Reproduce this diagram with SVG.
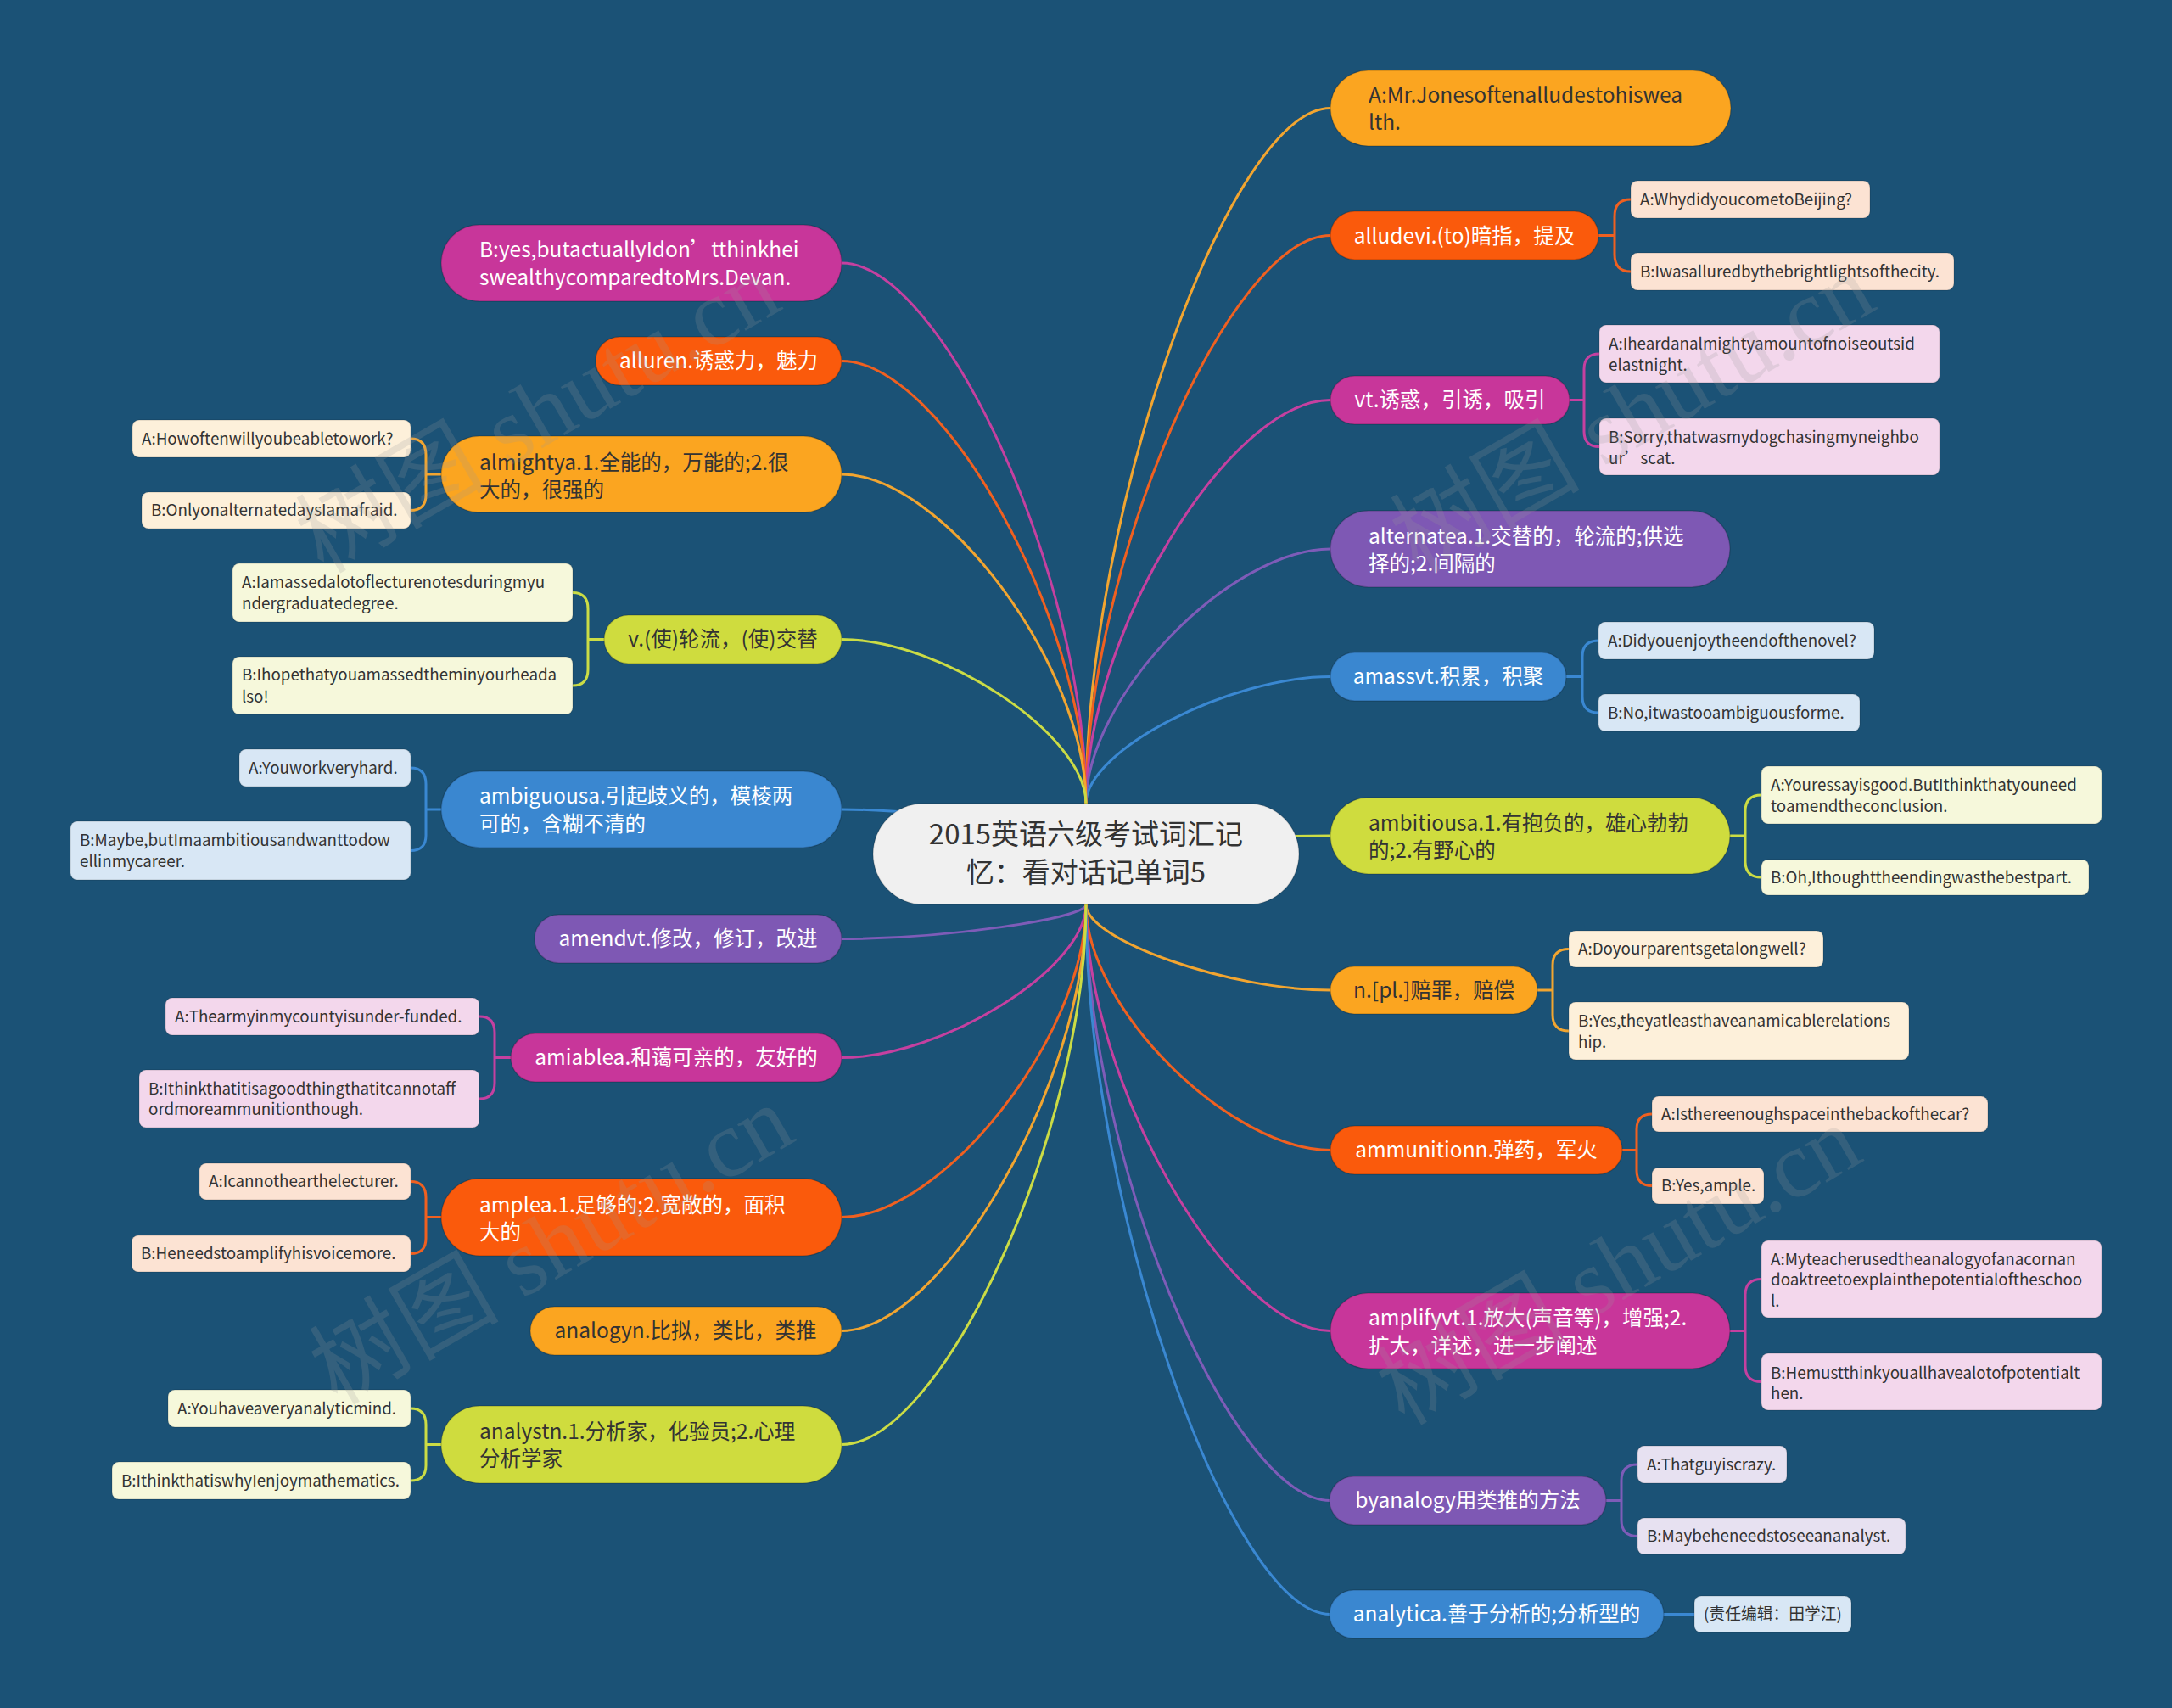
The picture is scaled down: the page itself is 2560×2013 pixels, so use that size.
<svg xmlns="http://www.w3.org/2000/svg" width="2560" height="2013" viewBox="0 0 2560 2013">
<style>
text{font-family:"Noto Sans CJK SC","Noto Sans",sans-serif}
.mt{font-size:24.5px}
.lt{font-size:18.8px;fill:#333}
.ct{font-size:33px;fill:#333;text-anchor:middle}
.w{fill:#fff}
.d{fill:#333}
.c{text-anchor:middle}
.n{stroke:rgba(0,0,0,0.18);stroke-width:1.5}
.lf{stroke:rgba(0,0,0,0.12);stroke-width:1.5}
.conn path{fill:none;stroke-width:3;stroke-linecap:round}
.or{fill:#FBA520}.rd{fill:#FA5A0C}.mg{fill:#C8369A}.pp{fill:#7E58B4}.bl{fill:#3A87D0}.yg{fill:#CFDC3E}
.l-or{fill:#FDF0DA}.l-rd{fill:#FCE3D3}.l-mg{fill:#F3D7EC}.l-pp{fill:#E7E1F1}.l-bl{fill:#D8E7F5}.l-yg{fill:#F6F8DB}
.s-or{stroke:#F2A530}.s-rd{stroke:#F06020}.s-mg{stroke:#C540A0}.s-pp{stroke:#7E5CB8}.s-bl{stroke:#3A88D2}.s-yg{stroke:#CBDC45}
.wm{font-family:"Liberation Serif","Noto Sans CJK SC",serif;font-size:112px;fill:#9a9a9a;opacity:0.2}
</style>
<rect width="2560" height="2013" fill="#1B5276"/>

<g class="conn" id="connectors">
<path class="s-or" d="M1280,947 C1280,603 1450,127.5 1568,127.5"/>
<path class="s-rd" d="M1280,947 C1280,666 1450,277.5 1568,277.5"/>
<path class="s-mg" d="M1280,947 C1280,747 1450,471.5 1568,471.5"/>
<path class="s-pp" d="M1280,947 C1280,821 1450,647 1568,647"/>
<path class="s-bl" d="M1280,947 C1280,884 1450,797.5 1568,797.5"/>
<path class="s-yg" d="M1280,1006 C1280,997 1450,985 1568,985"/>
<path class="s-or" d="M1280,1066 C1280,1108 1450,1167 1568,1167"/>
<path class="s-rd" d="M1280,1066 C1280,1188 1450,1355.5 1568,1355.5"/>
<path class="s-mg" d="M1280,1066 C1280,1277 1450,1568.5 1568,1568.5"/>
<path class="s-pp" d="M1280,1066 C1280,1361 1450,1768.5 1568,1768.5"/>
<path class="s-bl" d="M1280,1066 C1280,1417 1450,1902.5 1568,1902.5"/>
<path class="s-mg" d="M1280,947 C1280,679 1110,310 992,310"/>
<path class="s-rd" d="M1280,947 C1280,728 1110,425.5 992,425.5"/>
<path class="s-or" d="M1280,947 C1280,784 1110,559 992,559"/>
<path class="s-yg" d="M1280,947 C1280,866 1110,753.5 992,753.5"/>
<path class="s-bl" d="M1280,1006 C1280,984 1110,954 992,954"/>
<path class="s-pp" d="M1280,1066 C1280,1083 1110,1106.5 992,1106.5"/>
<path class="s-mg" d="M1280,1066 C1280,1142 1110,1246.5 992,1246.5"/>
<path class="s-rd" d="M1280,1066 C1280,1221 1110,1434.5 992,1434.5"/>
<path class="s-or" d="M1280,1066 C1280,1277 1110,1568.5 992,1568.5"/>
<path class="s-yg" d="M1280,1066 C1280,1333 1110,1702.5 992,1702.5"/>
<path class="s-rd" d="M1884,277.5 H1903 V255 Q1903,235 1922,235 M1903,277.5 V300 Q1903,320 1922,320"/>
<path class="s-mg" d="M1850,471.5 H1867 V435 Q1867,417 1885,417 M1867,471.5 V508.5 Q1867,526.5 1885,526.5"/>
<path class="s-bl" d="M1846,797.5 H1865 V774 Q1865,755 1884,755 M1865,797.5 V821 Q1865,840 1884,840"/>
<path class="s-yg" d="M2039,985 H2057 V956 Q2057,937 2076,937 M2057,985 V1015 Q2057,1034 2076,1034"/>
<path class="s-or" d="M1812,1167 H1830 V1137.5 Q1830,1118.5 1849,1118.5 M1830,1167 V1196 Q1830,1215 1849,1215"/>
<path class="s-rd" d="M1912,1355.5 H1929 V1331 Q1929,1313 1947,1313 M1929,1355.5 V1379.5 Q1929,1397.5 1947,1397.5"/>
<path class="s-mg" d="M2039,1568.5 H2057 V1526.5 Q2057,1507.5 2076,1507.5 M2057,1568.5 V1609.5 Q2057,1628.5 2076,1628.5"/>
<path class="s-pp" d="M1893,1768.5 H1911 V1745 Q1911,1726 1930,1726 M1911,1768.5 V1791.5 Q1911,1810.5 1930,1810.5"/>
<path class="s-bl" d="M1961,1902.5 H1997"/>
<path class="s-or" d="M520,559 H502 V536 Q502,517 484,517 M502,559 V583.5 Q502,601.5 484,601.5"/>
<path class="s-yg" d="M712,753.5 H693 V717.5 Q693,698.5 675,698.5 M693,753.5 V789 Q693,808 675,808"/>
<path class="s-bl" d="M520,954 H502 V924 Q502,905 484,905 M502,954 V984.5 Q502,1002.5 484,1002.5"/>
<path class="s-mg" d="M602,1246.5 H583 V1217 Q583,1198 565,1198 M583,1246.5 V1276 Q583,1295 565,1295"/>
<path class="s-rd" d="M520,1434.5 H502 V1411.5 Q502,1392.5 484,1392.5 M502,1434.5 V1459.5 Q502,1477.5 484,1477.5"/>
<path class="s-yg" d="M520,1702.5 H502 V1679 Q502,1660 484,1660 M502,1702.5 V1727 Q502,1745 484,1745"/>
</g>

<g id="center">
<rect x="1029" y="947" width="502" height="119" rx="59.5" fill="#F0F0F0" stroke="rgba(0,0,0,0.15)" stroke-width="1.5"/>
<text class="ct" x="1280" y="995">2015英语六级考试词汇记</text>
<text class="ct" x="1280" y="1040">忆：看对话记单词5</text>
</g>

<g id="r1">
<rect class="n or" x="1568" y="83" width="472" height="89" rx="44.5"/>
<text class="mt d" x="1613" y="121">A:Mr.Jonesoftenalludestohiswea</text>
<text class="mt d" x="1613" y="153">lth.</text>
</g>
<g id="r2">
<rect class="n rd" x="1568" y="249" width="316" height="57" rx="28.5"/>
<text class="mt w c" x="1726" y="287">alludevi.(to)暗指，提及</text>
</g>
<g id="r2a"><rect class="lf l-rd" x="1922" y="213" width="282" height="44" rx="8"/><text class="lt" x="1933" y="242">A:WhydidyoucometoBeijing?</text></g>
<g id="r2b"><rect class="lf l-rd" x="1922" y="298" width="381" height="44" rx="8"/><text class="lt" x="1933" y="327">B:Iwasalluredbythebrightlightsofthecity.</text></g>

<g id="r3">
<rect class="n mg" x="1568" y="443" width="282" height="57" rx="28.5"/>
<text class="mt w c" x="1709" y="480">vt.诱惑，引诱，吸引</text>
</g>
<g id="r3a"><rect class="lf l-mg" x="1885" y="383" width="401" height="68" rx="8"/><text class="lt" x="1896" y="412">A:Iheardanalmightyamountofnoiseoutsid</text><text class="lt" x="1896" y="437">elastnight.</text></g>
<g id="r3b"><rect class="lf l-mg" x="1885" y="493" width="401" height="67" rx="8"/><text class="lt" x="1896" y="522">B:Sorry,thatwasmydogchasingmyneighbo</text><text class="lt" x="1896" y="547">ur’scat.</text></g>

<g id="r4">
<rect class="n pp" x="1568" y="602" width="471" height="90" rx="45"/>
<text class="mt w" x="1613" y="641">alternatea.1.交替的，轮流的;供选</text>
<text class="mt w" x="1613" y="673">择的;2.间隔的</text>
</g>

<g id="r5">
<rect class="n bl" x="1568" y="769" width="278" height="57" rx="28.5"/>
<text class="mt w c" x="1707" y="806">amassvt.积累，积聚</text>
</g>
<g id="r5a"><rect class="lf l-bl" x="1884" y="733" width="325" height="44" rx="8"/><text class="lt" x="1895" y="762">A:Didyouenjoytheendofthenovel?</text></g>
<g id="r5b"><rect class="lf l-bl" x="1884" y="818" width="308" height="44" rx="8"/><text class="lt" x="1895" y="847">B:No,itwastooambiguousforme.</text></g>

<g id="r6">
<rect class="n yg" x="1568" y="940" width="471" height="90" rx="45"/>
<text class="mt d" x="1613" y="979">ambitiousa.1.有抱负的，雄心勃勃</text>
<text class="mt d" x="1613" y="1011">的;2.有野心的</text>
</g>
<g id="r6a"><rect class="lf l-yg" x="2076" y="903" width="401" height="68" rx="8"/><text class="lt" x="2087" y="932">A:Youressayisgood.ButIthinkthatyouneed</text><text class="lt" x="2087" y="957">toamendtheconclusion.</text></g>
<g id="r6b"><rect class="lf l-yg" x="2076" y="1013" width="386" height="42" rx="8"/><text class="lt" x="2087" y="1041">B:Oh,Ithoughttheendingwasthebestpart.</text></g>

<g id="r7">
<rect class="n or" x="1568" y="1139" width="244" height="56" rx="28"/>
<text class="mt d c" x="1690" y="1176">n.[pl.]赔罪，赔偿</text>
</g>
<g id="r7a"><rect class="lf l-or" x="1849" y="1097" width="300" height="43" rx="8"/><text class="lt" x="1860" y="1125">A:Doyourparentsgetalongwell?</text></g>
<g id="r7b"><rect class="lf l-or" x="1849" y="1181" width="401" height="68" rx="8"/><text class="lt" x="1860" y="1210">B:Yes,theyatleasthaveanamicablerelations</text><text class="lt" x="1860" y="1235">hip.</text></g>

<g id="r8">
<rect class="n rd" x="1568" y="1327" width="344" height="57" rx="28.5"/>
<text class="mt w c" x="1740" y="1364">ammunitionn.弹药，军火</text>
</g>
<g id="r8a"><rect class="lf l-rd" x="1947" y="1292" width="396" height="42" rx="8"/><text class="lt" x="1958" y="1320">A:Isthereenoughspaceinthebackofthecar?</text></g>
<g id="r8b"><rect class="lf l-rd" x="1947" y="1376" width="132" height="43" rx="8"/><text class="lt" x="1958" y="1404">B:Yes,ample.</text></g>

<g id="r9">
<rect class="n mg" x="1568" y="1524" width="471" height="89" rx="44.5"/>
<text class="mt w" x="1613" y="1562">amplifyvt.1.放大(声音等)，增强;2.</text>
<text class="mt w" x="1613" y="1595">扩大，详述，进一步阐述</text>
</g>
<g id="r9a"><rect class="lf l-mg" x="2076" y="1462" width="401" height="91" rx="8"/><text class="lt" x="2087" y="1491">A:Myteacherusedtheanalogyofanacornan</text><text class="lt" x="2087" y="1515">doaktreetoexplainthepotentialoftheschoo</text><text class="lt" x="2087" y="1540">l.</text></g>
<g id="r9b"><rect class="lf l-mg" x="2076" y="1595" width="401" height="67" rx="8"/><text class="lt" x="2087" y="1625">B:Hemustthinkyouallhavealotofpotentialt</text><text class="lt" x="2087" y="1649">hen.</text></g>

<g id="r10">
<rect class="n pp" x="1567" y="1740" width="326" height="57" rx="28.5"/>
<text class="mt w c" x="1730" y="1777">byanalogy用类推的方法</text>
</g>
<g id="r10a"><rect class="lf l-pp" x="1930" y="1704" width="176" height="44" rx="8"/><text class="lt" x="1941" y="1733">A:Thatguyiscrazy.</text></g>
<g id="r10b"><rect class="lf l-pp" x="1930" y="1789" width="316" height="43" rx="8"/><text class="lt" x="1941" y="1817">B:Maybeheneedstoseeananalyst.</text></g>

<g id="r11">
<rect class="n bl" x="1567" y="1874" width="394" height="57" rx="28.5"/>
<text class="mt w c" x="1764" y="1911">analytica.善于分析的;分析型的</text>
</g>
<g id="r11a"><rect class="lf l-bl" x="1997" y="1881" width="185" height="43" rx="8"/><text class="lt" x="2008" y="1909">(责任编辑：田学江)</text></g>

<g id="l1">
<rect class="n mg" x="520" y="265" width="472" height="90" rx="45"/>
<text class="mt w" x="565" y="303">B:yes,butactuallyIdon’tthinkhei</text>
<text class="mt w" x="565" y="336">swealthycomparedtoMrs.Devan.</text>
</g>
<g id="l2">
<rect class="n rd" x="702" y="397" width="290" height="57" rx="28.5"/>
<text class="mt w c" x="847" y="434">alluren.诱惑力，魅力</text>
</g>
<g id="l3">
<rect class="n or" x="520" y="514" width="472" height="90" rx="45"/>
<text class="mt d" x="565" y="554">almightya.1.全能的，万能的;2.很</text>
<text class="mt d" x="565" y="586">大的，很强的</text>
</g>
<g id="l3a"><rect class="lf l-or" x="156" y="495" width="328" height="44" rx="8"/><text class="lt" x="167" y="524">A:Howoftenwillyoubeabletowork?</text></g>
<g id="l3b"><rect class="lf l-or" x="167" y="580" width="317" height="43" rx="8"/><text class="lt" x="178" y="608">B:OnlyonalternatedaysIamafraid.</text></g>

<g id="l4">
<rect class="n yg" x="712" y="725" width="280" height="57" rx="28.5"/>
<text class="mt d c" x="852" y="762">v.(使)轮流，(使)交替</text>
</g>
<g id="l4a"><rect class="lf l-yg" x="274" y="664" width="401" height="69" rx="8"/><text class="lt" x="285" y="693">A:Iamassedalotoflecturenotesduringmyu</text><text class="lt" x="285" y="718">ndergraduatedegree.</text></g>
<g id="l4b"><rect class="lf l-yg" x="274" y="774" width="401" height="68" rx="8"/><text class="lt" x="285" y="802">B:Ihopethatyouamassedtheminyourheada</text><text class="lt" x="285" y="828">lso!</text></g>

<g id="l5">
<rect class="n bl" x="520" y="909" width="472" height="90" rx="45"/>
<text class="mt w" x="565" y="947">ambiguousa.引起歧义的，模棱两</text>
<text class="mt w" x="565" y="980">可的，含糊不清的</text>
</g>
<g id="l5a"><rect class="lf l-bl" x="282" y="883" width="202" height="44" rx="8"/><text class="lt" x="293" y="912">A:Youworkveryhard.</text></g>
<g id="l5b"><rect class="lf l-bl" x="83" y="968" width="401" height="69" rx="8"/><text class="lt" x="94" y="997">B:Maybe,butImaambitiousandwanttodow</text><text class="lt" x="94" y="1022">ellinmycareer.</text></g>

<g id="l6">
<rect class="n pp" x="630" y="1078" width="362" height="57" rx="28.5"/>
<text class="mt w c" x="811" y="1115">amendvt.修改，修订，改进</text>
</g>

<g id="l7">
<rect class="n mg" x="602" y="1218" width="390" height="57" rx="28.5"/>
<text class="mt w c" x="797" y="1255">amiablea.和蔼可亲的，友好的</text>
</g>
<g id="l7a"><rect class="lf l-mg" x="195" y="1176" width="370" height="44" rx="8"/><text class="lt" x="206" y="1205">A:Thearmyinmycountyisunder-funded.</text></g>
<g id="l7b"><rect class="lf l-mg" x="164" y="1261" width="401" height="68" rx="8"/><text class="lt" x="175" y="1290">B:Ithinkthatitisagoodthingthatitcannotaff</text><text class="lt" x="175" y="1314">ordmoreammunitionthough.</text></g>

<g id="l8">
<rect class="n rd" x="520" y="1389" width="472" height="91" rx="45.5"/>
<text class="mt w" x="565" y="1429">amplea.1.足够的;2.宽敞的，面积</text>
<text class="mt w" x="565" y="1461">大的</text>
</g>
<g id="l8a"><rect class="lf l-rd" x="235" y="1371" width="249" height="43" rx="8"/><text class="lt" x="246" y="1399">A:Icannothearthelecturer.</text></g>
<g id="l8b"><rect class="lf l-rd" x="155" y="1456" width="329" height="43" rx="8"/><text class="lt" x="166" y="1484">B:Heneedstoamplifyhisvoicemore.</text></g>

<g id="l9">
<rect class="n or" x="625" y="1540" width="367" height="57" rx="28.5"/>
<text class="mt d c" x="808" y="1577">analogyn.比拟，类比，类推</text>
</g>

<g id="l10">
<rect class="n yg" x="520" y="1657" width="472" height="91" rx="45.5"/>
<text class="mt d" x="565" y="1696">analystn.1.分析家，化验员;2.心理</text>
<text class="mt d" x="565" y="1728">分析学家</text>
</g>
<g id="l10a"><rect class="lf l-yg" x="198" y="1638" width="286" height="44" rx="8"/><text class="lt" x="209" y="1667">A:Youhaveaveryanalyticmind.</text></g>
<g id="l10b"><rect class="lf l-yg" x="132" y="1723" width="352" height="44" rx="8"/><text class="lt" x="143" y="1752">B:IthinkthatiswhyIenjoymathematics.</text></g>

<g id="watermark">
<text class="wm" text-anchor="middle" transform="translate(653,520) rotate(-30)">树图 shutu.cn</text>
<text class="wm" text-anchor="middle" transform="translate(1943,520) rotate(-30)">树图 shutu.cn</text>
<text class="wm" text-anchor="middle" transform="translate(669,1500) rotate(-30)">树图 shutu.cn</text>
<text class="wm" text-anchor="middle" transform="translate(1927,1524) rotate(-30)">树图 shutu.cn</text>
</g>
</svg>
